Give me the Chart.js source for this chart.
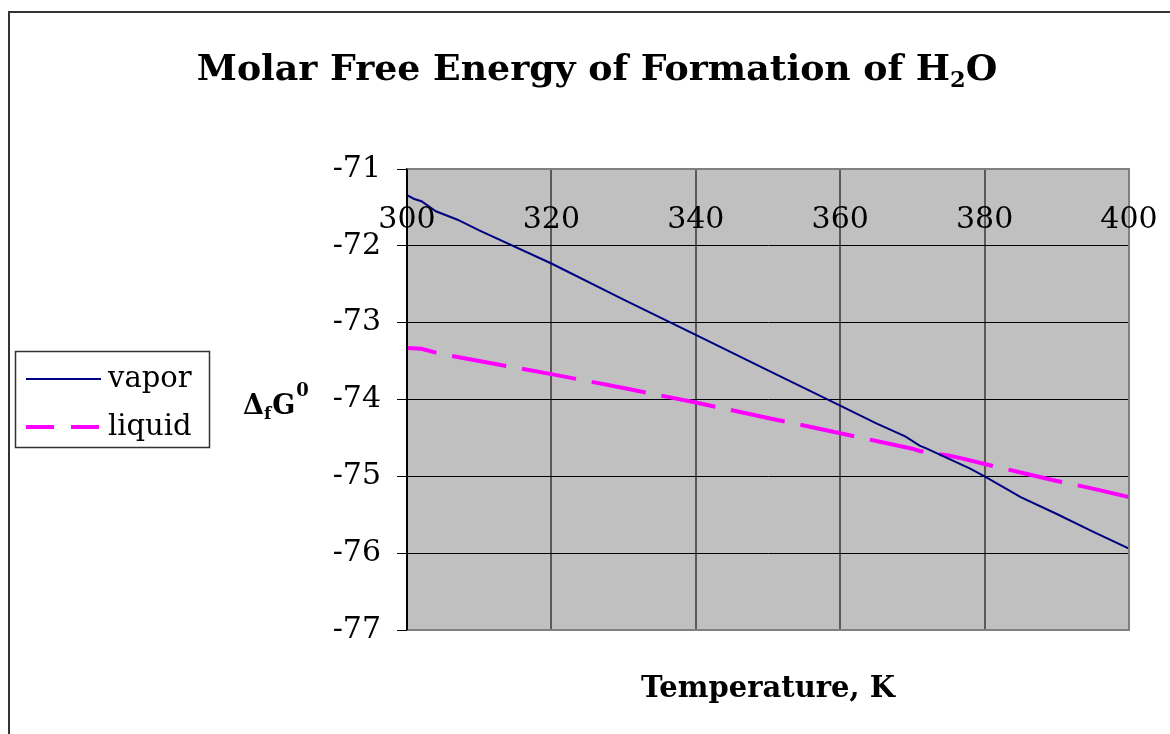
<!DOCTYPE html>
<html><head><meta charset="utf-8">
<script src="https://cdn.jsdelivr.net/npm/chart.js@4"></script>
<style>html,body{margin:0;padding:0;background:#fff;overflow:hidden}</style>
</head><body>
<canvas id="c" width="1170" height="734"></canvas>
<script>
// ---- data ----
const vaporTemps = [300, 301, 302, 304, 307, 310, 320, 330, 340, 350, 360, 365, 369, 371, 372, 378, 380, 385, 390, 395, 400];
const vaporValues = [-71.34, -71.39, -71.42, -71.55, -71.66, -71.80, -72.23, -72.70, -73.16, -73.62, -74.08, -74.31, -74.48, -74.60, -74.64, -74.90, -75.00, -75.27, -75.49, -75.72, -75.94];
const liquidTemps = [300, 302, 304, 306, 310, 320, 330, 340, 350, 360, 365, 370, 371, 375, 377, 380, 385, 390, 395, 400];
const liquidValues = [-73.33, -73.34, -73.39, -73.43, -73.50, -73.67, -73.85, -74.04, -74.24, -74.44, -74.54, -74.64, -74.67, -74.73, -74.77, -74.84, -74.95, -75.06, -75.16, -75.27];
const xTickLabels = ['300', '320', '340', '360', '380', '400'];
const yTickLabels = ['-77', '-76', '-75', '-74', '-73', '-72', '-71'];
const seriesNames = ['vapor', 'liquid'];
const titleMain = 'Molar Free Energy of Formation of H';
const titleSub = '2';
const titleEnd = 'O';
const xTitle = 'Temperature, K';

const SERIF = '"DejaVu Serif", "Liberation Serif", serif';

function fitFont(ctx, text, weight, targetW) {
  ctx.font = weight + ' 100px ' + SERIF;
  const w = ctx.measureText(text).width;
  return 100 * targetW / w;
}

const decor = {
  id: 'decor',
  beforeDraw(chart) {
    const {ctx, chartArea: a} = chart;
    ctx.save();
    ctx.fillStyle = '#fff';
    ctx.fillRect(0, 0, chart.width, chart.height);
    ctx.fillStyle = '#C0C0C0';
    ctx.fillRect(a.left, a.top, a.right - a.left, a.bottom - a.top);
    ctx.restore();
  },
  afterDraw(chart) {
    const {ctx, chartArea: a} = chart;
    const xs = chart.scales.x;
    ctx.save();
    // outer frame
    ctx.strokeStyle = '#333';
    ctx.lineWidth = 2;
    ctx.beginPath();
    ctx.moveTo(9, chart.height + 5);
    ctx.lineTo(9, 12);
    ctx.lineTo(chart.width + 5, 12);
    ctx.stroke();

    // plot border (top/right/bottom gray)
    ctx.strokeStyle = '#808080';
    ctx.lineWidth = 2;
    ctx.beginPath();
    ctx.moveTo(a.left, a.top);
    ctx.lineTo(a.right, a.top);
    ctx.lineTo(a.right, a.bottom);
    ctx.lineTo(a.left, a.bottom);
    ctx.stroke();
    ctx.strokeStyle = '#000';
    ctx.beginPath();
    ctx.moveTo(a.left, a.top);
    ctx.lineTo(a.left, a.bottom);
    ctx.stroke();

    // title
    ctx.fillStyle = '#000';
    ctx.textBaseline = 'alphabetic';
    ctx.textAlign = 'left';
    let fs = fitFont(ctx, titleMain + titleEnd, 'bold', 785);
    ctx.font = 'bold ' + fs + 'px ' + SERIF;
    const w1 = ctx.measureText(titleMain).width;
    const w3 = ctx.measureText(titleEnd).width;
    const subFs = fs * 0.62;
    ctx.font = 'bold ' + subFs + 'px ' + SERIF;
    const w2 = ctx.measureText(titleSub).width;
    const total = w1 + w2 + w3;
    let tx = 597 - total / 2;
    const tb = 80;
    ctx.font = 'bold ' + fs + 'px ' + SERIF;
    ctx.fillText(titleMain, tx, tb);
    ctx.font = 'bold ' + subFs + 'px ' + SERIF;
    ctx.fillText(titleSub, tx + w1, tb + 7);
    ctx.font = 'bold ' + fs + 'px ' + SERIF;
    ctx.fillText(titleEnd, tx + w1 + w2, tb);

    // x tick labels (inside plot, near top)
    ctx.font = '30px ' + SERIF;
    ctx.textAlign = 'center';
    xs.ticks.forEach((t, i) => {
      const px = xs.getPixelForValue(t.value);
      ctx.fillText(xTickLabels[i], px, 228);
    });

    // x title
    const xfs = fitFont(ctx, xTitle, 'bold', 254);
    ctx.font = 'bold ' + xfs + 'px ' + SERIF;
    ctx.textAlign = 'center';
    ctx.fillText(xTitle, (a.left + a.right) / 2, 697);

    // y title  Δ_f G^0
    ctx.textAlign = 'left';
    ctx.font = 'bold 27px ' + SERIF;
    let yx = 243;
    const yb = 414;
    ctx.fillText('\u0394', yx, yb);
    yx += ctx.measureText('\u0394').width;
    ctx.font = 'bold 17px ' + SERIF;
    ctx.fillText('f', yx, yb + 5);
    yx += ctx.measureText('f').width + 1;
    ctx.font = 'bold 27px ' + SERIF;
    ctx.fillText('G', yx, yb);
    yx += ctx.measureText('G').width + 1;
    ctx.font = 'bold 18px ' + SERIF;
    ctx.fillText('0', yx, yb - 18);

    // legend
    ctx.strokeStyle = '#333';
    ctx.lineWidth = 1.5;
    ctx.strokeRect(15.5, 351.5, 194, 96);
    const ds = chart.data.datasets;
    const rows = [379, 427];
    ctx.font = '29px ' + SERIF;
    ds.forEach((d, i) => {
      ctx.save();
      ctx.strokeStyle = d.borderColor;
      ctx.lineWidth = d.borderWidth;
      ctx.setLineDash(d.borderDash ? [28, 17] : []);
      ctx.beginPath();
      ctx.moveTo(26, rows[i]);
      ctx.lineTo(101, rows[i]);
      ctx.stroke();
      ctx.restore();
      ctx.fillStyle = '#000';
      ctx.textAlign = 'left';
      ctx.fillText(d.label, 108, rows[i] + 8);
    });
    ctx.restore();
  }
};

new Chart(document.getElementById('c'), {
  type: 'line',
  data: {
    datasets: [
      {
        label: seriesNames[0],
        data: vaporTemps.map((t, i) => ({x: t, y: vaporValues[i]})),
        borderColor: '#000080',
        borderWidth: 2,
        pointRadius: 0,
        tension: 0,
        fill: false
      },
      {
        label: seriesNames[1],
        data: liquidTemps.map((t, i) => ({x: t, y: liquidValues[i]})),
        borderColor: '#FF00FF',
        borderWidth: 4,
        borderDash: [55, 16],
        borderDashOffset: 25,
        pointRadius: 0,
        tension: 0,
        fill: false
      }
    ]
  },
  options: {
    responsive: false,
    animation: false,
    events: [],
    layout: {padding: {left: 0, top: 169, right: 41, bottom: 0}},
    plugins: {legend: {display: false}, title: {display: false}, tooltip: {enabled: false}},
    scales: {
      x: {
        type: 'linear',
        min: 300, max: 400,
        ticks: {display: false, stepSize: 20},
        grid: {color: '#5a5a5a', lineWidth: 2, drawTicks: false},
        border: {display: false},
        afterFit(s) { s.height = 104; }
      },
      y: {
        type: 'linear',
        min: -77, max: -71,
        ticks: {
          stepSize: 1,
          color: '#000',
          padding: 16,
          font: {family: SERIF, size: 30},
          callback: (v, i) => yTickLabels[i]
        },
        grid: {color: '#000', lineWidth: 1, tickLength: 10, drawTicks: true},
        border: {display: true, color: '#000', width: 2},
        afterFit(s) { s.width = 407; }
      }
    }
  },
  plugins: [decor]
});
</script>
</body></html>
